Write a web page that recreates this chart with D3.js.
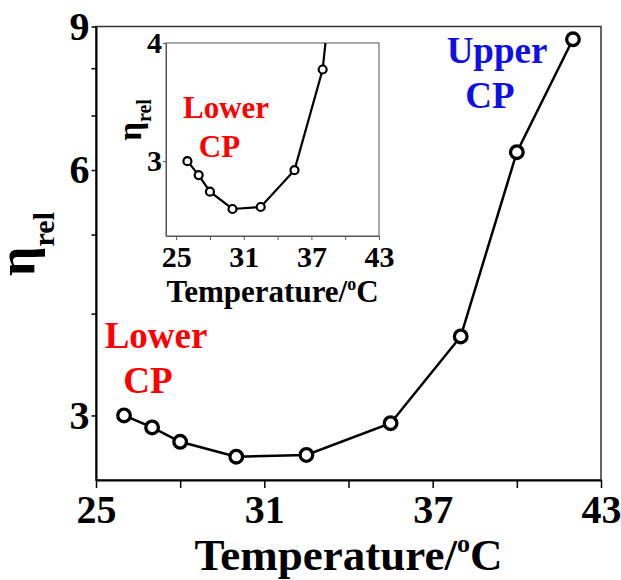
<!DOCTYPE html>
<html>
<head>
<meta charset="utf-8">
<script src="https://cdn.jsdelivr.net/npm/d3@7"></script>
<style>
  body { margin: 0; background: #fff; }
  svg text { font-family: "Liberation Serif", "Times New Roman", serif; font-weight: bold; }
</style>
</head>
<body>
<svg id="chart" width="621" height="580"></svg>
<script>
// data
var temps = [26, 27, 28, 30, 32.5, 35.5, 38, 40, 42];
var eta = [3.0, 2.90, 2.785, 2.67, 2.683, 2.935, 3.75, 6.31, 8.68];

var xTicks = [25, 28, 31, 34, 37, 40, 43];
var xLabels = [25, 31, 37, 43];
var yTicksMain = [3, 4, 5, 6, 7, 8, 9];
var yLabelsMain = [3, 6, 9];
var yTicksInset = [3, 4];

var data = temps.map(function(t, i) { return { x: t, y: eta[i] }; });

var svg = d3.select('#chart');

// draws one panel (main plot or inset)
function panel(p) {
  var g = svg.append('g');
  var x = d3.scaleLinear().domain(p.xDomain).range([p.left, p.right]);
  var y = d3.scaleLog().domain(p.yDomain).range([p.bottom, p.top]);

  g.append('rect')
    .attr('x', p.left).attr('y', p.top)
    .attr('width', p.right - p.left).attr('height', p.bottom - p.top)
    .attr('fill', '#fff')
    .attr('stroke', p.frameColor)
    .attr('stroke-width', p.frameWidth);

  var xAxis = d3.axisBottom(x)
    .tickValues(xTicks)
    .tickSize(p.xTickSize).tickSizeOuter(0).tickPadding(p.xPad)
    .tickFormat(function(d) { return xLabels.indexOf(d) >= 0 ? d : ''; });
  var yAxis = d3.axisLeft(y)
    .tickValues(p.yTicks)
    .tickSize(p.yTickSize).tickSizeOuter(0).tickPadding(p.yPad)
    .tickFormat(function(d) { return p.yLabels.indexOf(d) >= 0 ? d : ''; });

  var gx = g.append('g').attr('transform', 'translate(0,' + p.bottom + ')').call(xAxis);
  var gy = g.append('g').attr('transform', 'translate(' + p.left + ',0)').call(yAxis);
  [gx, gy].forEach(function(a) {
    a.select('.domain').attr('stroke', p.axisColor).attr('stroke-width', p.axisWidth);
    a.selectAll('.tick line').attr('stroke', p.axisColor).attr('stroke-width', p.tickWidth);
    a.selectAll('.tick text')
      .attr('fill', '#000')
      .style('font-size', p.tickFont + 'px')
      .style('font-family', '"Liberation Serif", serif');
  });

  var clipId = 'clip' + p.name;
  g.append('clipPath').attr('id', clipId)
    .append('rect')
    .attr('x', p.left).attr('y', p.top)
    .attr('width', p.right - p.left).attr('height', p.bottom - p.top);

  var plot = g.append('g').attr('clip-path', 'url(#' + clipId + ')');
  var line = d3.line()
    .x(function(d) { return x(d.x); })
    .y(function(d) { return y(d.y); });

  plot.append('path')
    .datum(data)
    .attr('d', line)
    .attr('fill', 'none')
    .attr('stroke', '#000')
    .attr('stroke-width', p.lineWidth);

  plot.selectAll('circle').data(data)
    .enter().append('circle')
    .attr('cx', function(d) { return x(d.x); })
    .attr('cy', function(d) { return y(d.y); })
    .attr('r', p.r)
    .attr('fill', '#fff')
    .attr('stroke', '#000')
    .attr('stroke-width', p.markerStroke);

  // x title
  var xt = g.append('text')
    .attr('x', (p.left + p.right) / 2).attr('y', p.xTitleY)
    .attr('text-anchor', 'middle')
    .style('font-size', p.titleFont + 'px');
  xt.append('tspan').text('Temperature/');
  xt.append('tspan').text('o').style('font-size', (p.titleFont * 0.58) + 'px').attr('dy', -p.titleFont * 0.4);
  xt.append('tspan').text('C').attr('dy', p.titleFont * 0.4);

  // y title
  var yt = g.append('text')
    .attr('transform', 'translate(' + p.yTitleX + ',' + p.yTitleY + ') rotate(-90)')
    .attr('text-anchor', 'middle')
    .style('font-size', p.etaFont + 'px');
  yt.append('tspan').text('\u03b7');
  yt.append('tspan').text('rel').style('font-size', p.relFont + 'px').attr('dy', p.relShift);

  return g;
}

panel({
  name: 'main', left: 96, right: 601, top: 26.5, bottom: 480,
  xDomain: [25, 43], yDomain: [2.5, 9],
  yTicks: yTicksMain, yLabels: yLabelsMain,
  frameColor: '#333', frameWidth: 1.5, axisColor: '#000', axisWidth: 2, tickWidth: 1.5,
  xTickSize: 8, xPad: 7, yTickSize: 4.5, yPad: 2, tickFont: 40,
  lineWidth: 2.5, r: 6.3, markerStroke: 3.3,
  titleFont: 45, xTitleY: 570,
  yTitleX: 34, yTitleY: 244, etaFont: 52, relFont: 30, relShift: 20
});

panel({
  name: 'inset', left: 166, right: 379, top: 43, bottom: 236,
  xDomain: [24.1, 43], yDomain: [2.5, 4],
  yTicks: yTicksInset, yLabels: yTicksInset,
  frameColor: '#555', frameWidth: 1, axisColor: '#555', axisWidth: 1, tickWidth: 1,
  xTickSize: 4, xPad: 6, yTickSize: 3, yPad: 1, tickFont: 30,
  lineWidth: 2.2, r: 4, markerStroke: 2.2,
  titleFont: 31, xTitleY: 302,
  yTitleX: 141, yTitleY: 120, etaFont: 33, relFont: 20, relShift: 10
});

// annotations
function label(lines, color, size) {
  lines.forEach(function(l) {
    svg.append('text')
      .attr('x', l[1]).attr('y', l[2])
      .attr('text-anchor', 'middle')
      .attr('fill', color)
      .style('font-size', size + 'px')
      .text(l[0]);
  });
}
label([['Lower', 156, 348], ['CP', 148, 393]], '#ff0000', 37);
label([['Upper', 497, 63], ['CP', 490, 108]], '#1010e6', 37);
label([['Lower', 226, 118], ['CP', 219.5, 157]], '#ff0000', 31);
</script>
</body>
</html>
